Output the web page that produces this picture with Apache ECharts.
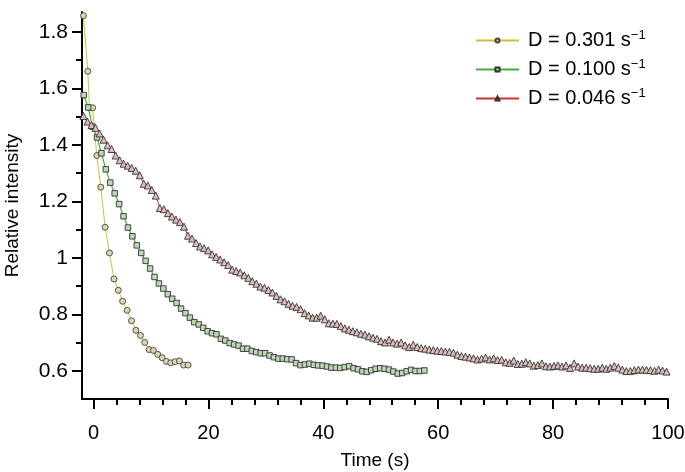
<!DOCTYPE html>
<html><head><meta charset="utf-8">
<script src="https://cdn.jsdelivr.net/npm/echarts@6/dist/echarts.min.js"></script>
<style>html,body{margin:0;padding:0;background:#fff}#c{width:685px;height:472px}</style>
</head><body><div id="c"></div>
<script>
// ---- data ----
const seriesNames = ['D = 0.301 s', 'D = 0.100 s', 'D = 0.046 s'];

const t301 = [-1.75,-0.99,-0.70,-0.15,0.57,1.27,2.03,2.78,3.57,4.33,5.07,5.86,6.62,7.38,8.17,8.92,9.69,10.43,11.18,11.95,12.70,13.44,14.20,14.96,15.70,16.47];
const v301 = [1.857,1.660,1.531,1.531,1.362,1.250,1.108,1.017,0.925,0.885,0.846,0.814,0.777,0.743,0.725,0.700,0.675,0.672,0.658,0.646,0.633,0.628,0.632,0.635,0.620,0.620];

const t100 = [-1.70,-0.93,-0.16,0.61,1.38,2.15,2.92,3.69,4.46,5.23,
  6.00,6.77,7.54,8.31,9.08,9.85,10.62,11.39,12.16,12.93,
  13.70,14.47,15.24,16.01,16.78,17.55,18.32,19.09,19.86,20.63,
  21.40,22.17,22.94,23.71,24.48,25.25,26.02,26.79,27.56,28.33,
  29.10,29.87,30.64,31.41,32.18,32.95,33.72,34.49,35.26,36.03,
  36.80,37.57,38.34,39.11,39.88,40.65,41.42,42.19,42.96,43.73,
  44.50,45.27,46.04,46.81,47.58,48.35,49.12,49.89,50.66,51.43,
  52.20,52.97,53.74,54.51,55.28,56.05,56.82,57.59];
const v100 = [1.576,1.532,1.464,1.426,1.370,1.313,1.266,1.228,1.190,1.147,
  1.107,1.076,1.044,1.017,0.989,0.962,0.932,0.909,0.891,0.871,
  0.855,0.840,0.820,0.804,0.788,0.772,0.764,0.752,0.740,0.733,
  0.729,0.713,0.707,0.698,0.693,0.689,0.678,0.678,0.670,0.666,
  0.662,0.662,0.654,0.648,0.643,0.643,0.641,0.640,0.627,0.620,
  0.622,0.625,0.621,0.619,0.618,0.615,0.611,0.611,0.610,0.613,
  0.616,0.609,0.605,0.598,0.596,0.602,0.607,0.609,0.607,0.604,
  0.597,0.590,0.592,0.598,0.603,0.599,0.599,0.601];

const t046 = [-1.75,-1.05,-0.35,0.35,1.05,1.75,2.45,3.15,3.85,4.55,
  5.25,5.95,6.65,7.35,8.05,8.75,9.45,10.15,10.85,11.55,
  12.25,12.95,13.65,14.35,15.05,15.75,16.45,17.15,17.85,18.55,
  19.25,19.95,20.65,21.35,22.05,22.75,23.45,24.15,24.85,25.55,
  26.25,26.95,27.65,28.35,29.05,29.75,30.45,31.15,31.85,32.55,
  33.25,33.95,34.65,35.35,36.05,36.75,37.45,38.15,38.85,39.55,
  40.25,40.95,41.65,42.35,43.05,43.75,44.45,45.15,45.85,46.55,
  47.25,47.95,48.65,49.35,50.05,50.75,51.45,52.15,52.85,53.55,
  54.25,54.95,55.65,56.35,57.05,57.75,58.45,59.15,59.85,60.55,
  61.25,61.95,62.65,63.35,64.05,64.75,65.45,66.15,66.85,67.55,
  68.25,68.95,69.65,70.35,71.05,71.75,72.45,73.15,73.85,74.55,
  75.25,75.95,76.65,77.35,78.05,78.75,79.45,80.15,80.85,81.55,
  82.25,82.95,83.65,84.35,85.05,85.75,86.45,87.15,87.85,88.55,
  89.25,89.95,90.65,91.35,92.05,92.75,93.45,94.15,94.85,95.55,
  96.25,96.95,97.65,98.35,99.05,99.75];
const v046 = [1.502,1.482,1.470,1.460,1.440,1.418,1.398,1.385,1.362,1.345,
  1.333,1.326,1.318,1.308,1.292,1.262,1.256,1.240,1.220,1.176,
  1.172,1.158,1.146,1.135,1.126,1.110,1.078,1.068,1.052,1.040,
  1.034,1.026,1.012,1.003,0.994,0.984,0.974,0.958,0.953,0.948,
  0.938,0.929,0.917,0.908,0.898,0.894,0.886,0.877,0.865,0.853,
  0.846,0.837,0.830,0.826,0.818,0.804,0.796,0.788,0.788,0.795,
  0.782,0.768,0.767,0.766,0.758,0.750,0.745,0.740,0.736,0.731,
  0.728,0.722,0.717,0.713,0.705,0.700,0.710,0.700,0.696,0.700,
  0.690,0.684,0.692,0.684,0.680,0.678,0.675,0.673,0.671,0.670,
  0.668,0.667,0.664,0.657,0.652,0.650,0.647,0.644,0.640,0.643,
  0.647,0.640,0.644,0.638,0.639,0.630,0.628,0.636,0.624,0.625,
  0.630,0.626,0.618,0.620,0.626,0.616,0.615,0.617,0.619,0.615,
  0.619,0.610,0.626,0.615,0.611,0.611,0.609,0.607,0.607,0.611,
  0.607,0.611,0.617,0.611,0.604,0.599,0.599,0.602,0.604,0.604,
  0.603,0.602,0.600,0.604,0.601,0.597];

const xMajorTicks = [0, 20, 40, 60, 80, 100];
const xMinorTicks = [4,8,12,16,24,28,32,36,44,48,52,56,64,68,72,76,84,88,92,96];
const yMajorTicks = [0.6, 0.8, 1, 1.2, 1.4, 1.6, 1.8];
const yMinorTicks = [0.7, 0.9, 1.1, 1.3, 1.5, 1.7];

// ---- chart ----
const FONT = 'Liberation Sans, Arial, Helvetica, sans-serif';
const pairs = (t, v) => t.map((x, i) => [x, v[i]]);
const axisLineStyle = { color: '#000', width: 2 };

const baseX = { type: 'value', min: -2, max: 100, position: 'bottom', splitLine: { show: false } };
const baseY = { type: 'value', min: 0.5, max: 1.87, position: 'left', splitLine: { show: false } };

const option = {
  animation: false,
  backgroundColor: '#fff',
  grid: { left: 82, right: 17, top: 12, bottom: 73, containLabel: false, outerBoundsMode: 'none' },
  legend: {
    orient: 'vertical', left: 475, top: 29, padding: 0, itemWidth: 43, itemHeight: 5, itemGap: 7.5,
    data: seriesNames,
    formatter: n => n + '{sup|\u22121}',
    textStyle: { fontFamily: FONT, fontSize: 20, color: '#000', padding: [0, 0, 0, 4],
      rich: { sup: { fontFamily: FONT, fontSize: 13, color: '#000', verticalAlign: 'top', padding: [0, 0, 10, 0] } } }
  },
  xAxis: [
    Object.assign({}, baseX, {
      axisLine: { show: true, onZero: false, lineStyle: axisLineStyle },
      axisTick: { show: true, length: 10, lineStyle: { color: '#000', width: 2 }, customValues: xMajorTicks },
      axisLabel: { fontFamily: FONT, fontSize: 20, color: '#000', margin: 24, customValues: xMajorTicks },
      name: 'Time (s)', nameLocation: 'middle', nameGap: 52,
      nameTextStyle: { fontFamily: FONT, fontSize: 19, color: '#000' }
    }),
    Object.assign({}, baseX, {
      axisLine: { show: false, onZero: false },
      axisTick: { show: true, length: 6, lineStyle: { color: '#000', width: 2 }, customValues: xMinorTicks },
      axisLabel: { show: false }
    })
  ],
  yAxis: [
    Object.assign({}, baseY, {
      axisLine: { show: true, onZero: false, lineStyle: axisLineStyle },
      axisTick: { show: true, length: 10, lineStyle: { color: '#000', width: 2 }, customValues: yMajorTicks },
      axisLabel: { fontFamily: FONT, fontSize: 21, color: '#000', margin: 14, customValues: yMajorTicks },
      name: 'Relative intensity', nameLocation: 'middle', nameGap: 60,
      nameTextStyle: { fontFamily: FONT, fontSize: 19, color: '#000' }
    }),
    Object.assign({}, baseY, {
      axisLine: { show: false, onZero: false },
      axisTick: { show: true, length: 6, lineStyle: { color: '#000', width: 2 }, customValues: yMinorTicks },
      axisLabel: { show: false }
    })
  ],
  series: [
    { name: seriesNames[0], type: 'line', data: pairs(t301, v301), symbol: 'circle', symbolSize: 6,
      lineStyle: { color: '#c9c23a', width: 1 }, itemStyle: { color: '#dcd6b0', borderColor: '#444', borderWidth: 0.9 }, z: 3 },
    { name: seriesNames[1], type: 'line', data: pairs(t100, v100), symbol: 'rect', symbolSize: 5.5,
      lineStyle: { color: '#3fb03f', width: 1.2 }, itemStyle: { color: '#bcd8b4', borderColor: '#333', borderWidth: 0.9 }, z: 4 },
    { name: seriesNames[2], type: 'line', data: pairs(t046, v046), symbol: 'triangle', symbolSize: 7,
      lineStyle: { color: '#c83232', width: 1 }, itemStyle: { color: '#dcbcbc', borderColor: '#333', borderWidth: 0.9 }, z: 5 }
  ]
};
option.series.forEach(s => { s.showSymbol = true; s.emphasis = { disabled: true }; s.silent = true; });

const chart = echarts.init(document.getElementById('c'), null, { renderer: 'canvas' });
chart.setOption(option);
</script>
</body></html>
